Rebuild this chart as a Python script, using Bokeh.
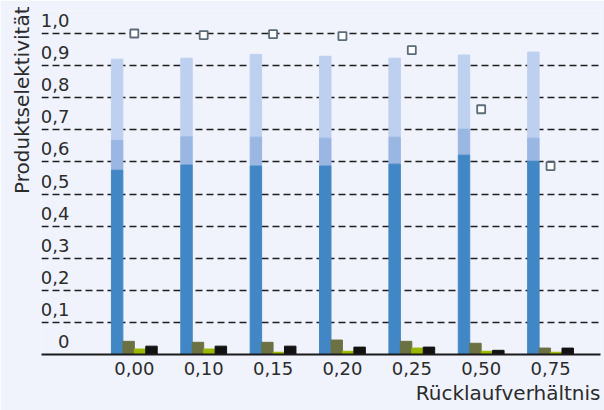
import numpy as np
from bokeh.plotting import figure
from bokeh.models import ColumnDataSource, FixedTicker, Range1d, Title
from bokeh.core.properties import value
from bokeh.embed import file_html
from bokeh.resources import INLINE

# ---- data ----
categories = ["0,00", "0,10", "0,15", "0,20", "0,25", "0,50", "0,75"]
main_dark = [0.574, 0.590, 0.587, 0.587, 0.593, 0.621, 0.602]
mid_part = [0.093, 0.088, 0.090, 0.087, 0.084, 0.081, 0.072]
light_part = [0.253, 0.245, 0.258, 0.255, 0.246, 0.231, 0.268]
olive_vals = [0.041, 0.038, 0.038, 0.045, 0.041, 0.035, 0.020]
lime_vals = [0.017, 0.017, 0.007, 0.010, 0.020, 0.010, 0.007]
black_vals = [0.026, 0.026, 0.026, 0.023, 0.023, 0.013, 0.020]
marker_vals = [1.000, 0.995, 0.998, 0.992, 0.948, 0.764, 0.587]
y_ticks = [0.0, 0.1, 0.2, 0.3, 0.4, 0.5, 0.6, 0.7, 0.8, 0.9, 1.0]
y_tick_labels = ["0", "0,1", "0,2", "0,3", "0,4", "0,5", "0,6", "0,7", "0,8", "0,9", "1,0"]
y_title = "Produktselektivität"
x_title = "Rücklaufverhältnis"

BG = "#f0f3fc"
FONT = "DejaVu Sans"
TXT = "#2b2b2b"

W, H = 604, 410
ML, MR, MT, MB = 40, 4, 10, 56
frame_h = H - MT - MB
PX_PER_UNIT = 321.0  # vertical pixels per 1.0

idx = np.arange(len(categories))
d = np.array(main_dark)
m = np.array(mid_part)
l = np.array(light_part)

x_start, x_end = -1.338, 6.72
p = figure(width=W, height=H, output_backend="svg", toolbar_location=None,
           x_range=Range1d(x_start, x_end), y_range=Range1d(0, frame_h / PX_PER_UNIT),
           y_axis_location=None, min_border_left=ML, min_border_right=MR,
           min_border_top=MT, min_border_bottom=MB)
p.background_fill_color = BG
p.border_fill_color = BG
p.outline_line_color = None
p.xgrid.visible = False
p.ygrid.ticker = FixedTicker(ticks=y_ticks[1:])
p.ygrid.grid_line_color = "#1e1e1e"
p.ygrid.grid_line_dash = "7 4"
p.ygrid.grid_line_width = 1.3

bw = 0.165
off = [-1.5 * bw, -0.5 * bw, 0.5 * bw, 1.5 * bw]
xs = idx
p.vbar(x=xs + off[0], bottom=d + m, top=d + m + l, width=bw, color="#bed0f0")
p.vbar(x=xs + off[0], bottom=d, top=d + m, width=bw, color="#9ab6e2")
p.vbar(x=xs + off[0], bottom=0, top=d, width=bw, color="#4287c5")
p.vbar(x=xs + off[1], bottom=0, top=np.array(olive_vals), width=bw, color="#6b7143")
p.vbar(x=xs + off[2], bottom=0, top=np.array(lime_vals), width=bw, color="#9bb700")
p.vbar(x=xs + off[3], bottom=0, top=np.array(black_vals), width=bw, color="#121212")
p.scatter(x=xs, y=np.array(marker_vals), marker="square", size=8,
          fill_color="white", line_color="#5b6b78", line_width=1.8)

# y tick labels drawn inside the frame, sitting above their gridlines
lift = 13 / PX_PER_UNIT
p.text(x=[x_start] * len(y_ticks), y=[t + lift for t in y_ticks], text=y_tick_labels,
       x_offset=28, text_align="right", text_baseline="alphabetic",
       text_font=value(FONT), text_font_size="18px", text_color=TXT)

ax = p.xaxis[0]
ax.ticker = FixedTicker(ticks=list(idx))
ax.major_label_overrides = {int(i): c for i, c in zip(idx, categories)}
ax.major_tick_out = 0
ax.major_tick_in = 0
ax.minor_tick_out = 0
ax.minor_tick_in = 0
ax.axis_line_width = 2
ax.axis_line_color = "#1a1a1a"
ax.major_label_standoff = 7
ax.major_label_text_font = FONT
ax.major_label_text_font_size = "18px"
ax.major_label_text_color = TXT

p.add_layout(Title(text=x_title, align="right", standoff=3, text_font=FONT,
                   text_font_size="20px", text_font_style="normal", text_color=TXT), "below")
p.add_layout(Title(text=y_title, align="right", standoff=15, offset=-4, text_font=FONT,
                   text_font_size="20px", text_font_style="normal", text_color=TXT), "left")

open("out.html", "w").write(file_html(p, INLINE))
